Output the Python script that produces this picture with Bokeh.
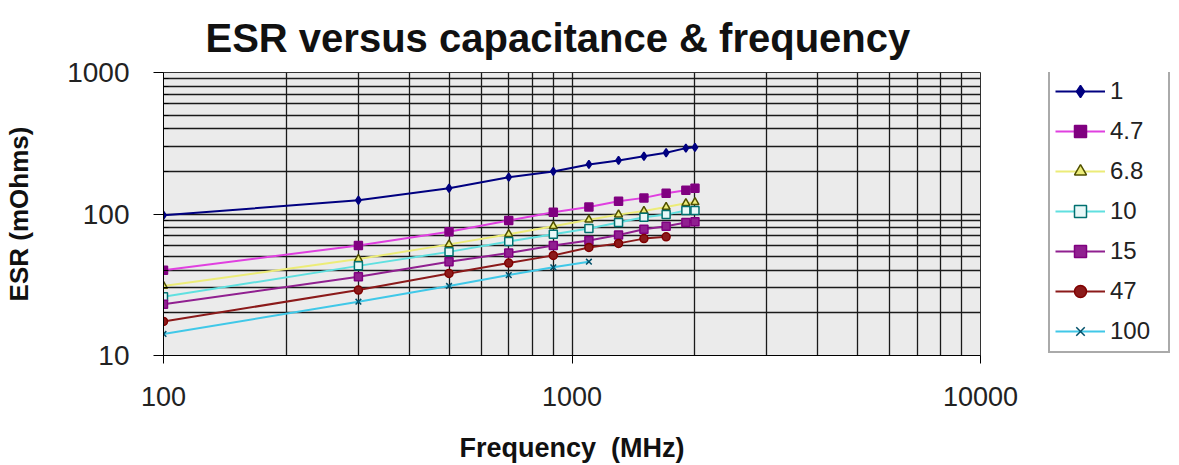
from bokeh.plotting import figure
from bokeh.layouts import row
from bokeh.models import Range1d, FixedTicker, Legend, LegendItem
from bokeh.embed import file_html
from bokeh.resources import INLINE

# ---- data ----
freq = [100, 300, 500, 700, 900, 1100, 1300, 1500, 1700, 1900, 2000]
esr_1 = [98, 125, 152, 182, 200, 224, 239, 256, 271, 292, 296]
esr_4_7 = [40, 60, 75, 90, 103, 112, 123, 130, 140, 147, 152]
esr_6_8 = [31, 48, 61, 72, 82, 91, 99, 105, 112, 119, 121]
esr_10 = [26, 43, 54, 64, 72, 79, 87, 95, 99, 106, 106]
esr_15 = [23, 36, 46, 53, 60, 65, 71, 78, 82, 87, 88]
esr_47 = [17.4, 29, 38, 45, 51, 58, 62, 67, 69]
esr_100 = [14.2, 24, 31, 37, 42, 46]

series_names = ["1", "4.7", "6.8", "10", "15", "47", "100"]
series_values = [esr_1, esr_4_7, esr_6_8, esr_10, esr_15, esr_47, esr_100]
line_colors = ["#000080", "#e040e0", "#ecec78", "#60e0e0", "#902090", "#8b1a1a", "#40c8e8"]
marker_types = ["diamond", "square", "triangle", "square", "square", "circle", "x"]
marker_fill = ["#000080", "#800080", "#ecec78", "#e8f8f8", "#902090", "#8b1a1a", "#00506a"]
marker_line = ["#000080", "#800080", "#505000", "#007070", "#800080", "#800000", "#00506a"]

x_major = [100, 1000, 10000]
x_labels = ["100", "1000", "10000"]
x_minor = [200, 300, 400, 500, 600, 700, 800, 900,
           2000, 3000, 4000, 5000, 6000, 7000, 8000, 9000]
y_major = [10, 100, 1000]
y_labels = ["10", "100", "1000"]
y_minor = [20, 30, 40, 50, 60, 70, 80, 90,
           200, 300, 400, 500, 600, 700, 800, 900]

p = figure(width=1022, height=465, x_axis_type="log", y_axis_type="log",
           x_range=Range1d(100, 10000), y_range=Range1d(10, 1000),
           output_backend="svg", toolbar_location=None,
           min_border_left=163, min_border_right=42,
           min_border_top=72, min_border_bottom=110,
           background_fill_color="#ebebeb", border_fill_color="white")

p.title.text = "ESR versus capacitance & frequency"
p.title.align = "left"
p.title.offset = 42
p.title.text_font = "Liberation Sans"
p.title.text_font_style = "bold"
p.title.text_font_size = "40px"
p.title.text_color = "#111111"
p.title.standoff = 26

p.xaxis.ticker = FixedTicker(ticks=x_major, minor_ticks=x_minor)
p.yaxis.ticker = FixedTicker(ticks=y_major, minor_ticks=y_minor)
p.xaxis.major_label_overrides = dict(zip(x_major, x_labels))
p.yaxis.major_label_overrides = dict(zip(y_major, y_labels))

for ax in (p.xaxis[0], p.yaxis[0]):
    ax.axis_line_color = "black"
    ax.major_tick_line_color = "black"
    ax.major_label_text_font = "Liberation Sans"
    ax.major_label_text_color = "#222222"
    ax.axis_label_text_font = "Liberation Sans"
    ax.axis_label_text_font_style = "bold"
    ax.axis_label_text_color = "#111111"
    ax.major_tick_in = 0

p.xaxis.major_tick_out = 8
p.xaxis.minor_tick_line_color = None
p.xaxis.major_label_text_font_size = "27px"
p.xaxis.major_label_standoff = 23
p.xaxis.axis_label = "Frequency\u00a0 (MHz)"
p.xaxis.axis_label_text_font_size = "27px"
p.xaxis.axis_label_standoff = 24

p.yaxis.major_tick_out = 10
p.yaxis.minor_tick_in = 5
p.yaxis.minor_tick_out = 0
p.yaxis.minor_tick_line_color = "black"
p.yaxis.major_label_text_font_size = "28px"
p.yaxis.major_label_standoff = 24
p.yaxis.axis_label = "ESR (mOhms)"
p.yaxis.axis_label_text_font_size = "26px"
p.yaxis.axis_label_standoff = 30

for g in (p.xgrid[0], p.ygrid[0]):
    g.grid_line_color = "#1a1a1a"
    g.grid_line_width = 1.3
    g.minor_grid_line_color = "#1a1a1a"
    g.minor_grid_line_width = 1.3

p.outline_line_color = "#333333"

# legend panel: a narrow companion figure that carries the legend;
# its ranges keep the series' own marks out of view, only the key shows
pl = figure(width=157, height=465, output_backend="svg", toolbar_location=None,
            x_axis_location=None, y_axis_location=None,
            x_range=Range1d(-2, -1), y_range=Range1d(-2, -1),
            min_border_left=0, min_border_right=0, min_border_top=0, min_border_bottom=0,
            outline_line_color=None, background_fill_color="white",
            border_fill_color="white")
for g in pl.grid:
    g.visible = False

items = []
for name, vals, lc, mt, mf, ml in zip(series_names, series_values, line_colors,
                                      marker_types, marker_fill, marker_line):
    xs = freq[:len(vals)]
    p.line(xs, vals, line_color=lc, line_width=2)
    p.scatter(xs, vals, marker=mt, size=8, fill_color=mf, line_color=ml, line_width=1.5)
    k1 = pl.line(xs, vals, line_color=lc, line_width=2)
    k2 = pl.scatter(xs, vals, marker=mt, size=7, fill_color=mf, line_color=ml, line_width=1.5)
    items.append(LegendItem(label=name, renderers=[k1, k2]))

legend = Legend(items=items, location=(26, 2))
legend.label_text_font = "Liberation Sans"
legend.label_text_font_size = "24px"
legend.label_text_color = "#222222"
legend.glyph_width = 50
legend.glyph_height = 30
legend.label_height = 30
legend.label_width = 53
legend.label_standoff = 5
legend.spacing = 10
legend.padding = 5
legend.margin = 0
legend.border_line_color = "#555555"
legend.border_line_width = 2
legend.background_fill_color = "white"
legend.background_fill_alpha = 1
pl.add_layout(legend, "center")

layout = row(p, pl)
open("out.html", "w").write(file_html(layout, INLINE))
